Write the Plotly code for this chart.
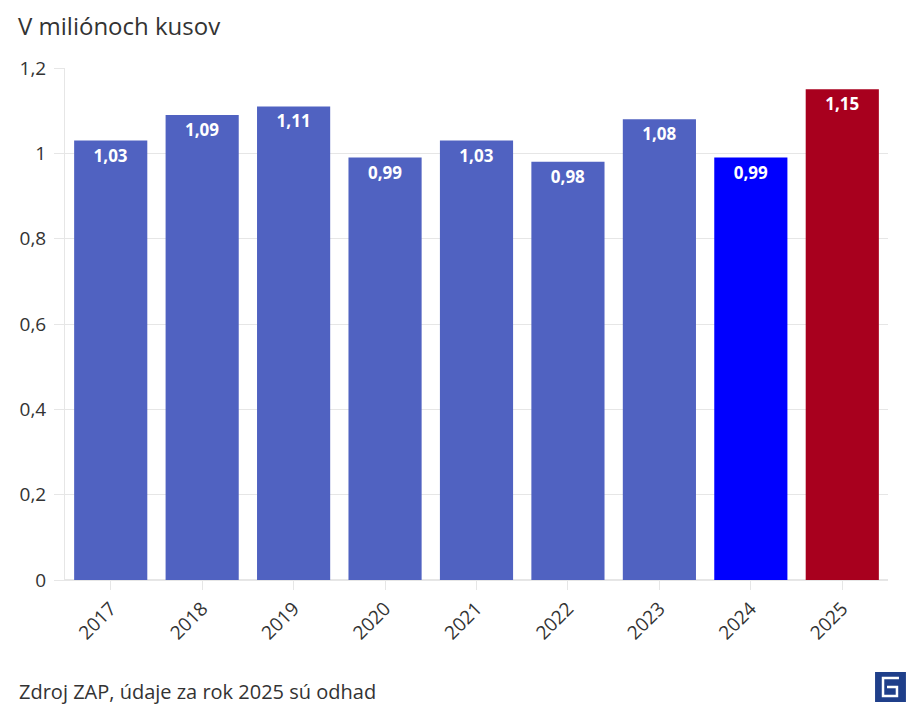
import plotly.graph_objects as go

years = ["2017", "2018", "2019", "2020", "2021", "2022", "2023", "2024", "2025"]
values = [1.03, 1.09, 1.11, 0.99, 1.03, 0.98, 1.08, 0.99, 1.15]
labels = ["1,03", "1,09", "1,11", "0,99", "1,03", "0,98", "1,08", "0,99", "1,15"]
colors = ["#5062C1"] * 7 + ["#0000FF", "#A8001E"]

OFF = 8  # page body margin
W, H = 912, 713
L, R, T, B = 54, 32, 60, 141
pw, ph = W - L - R, H - T - B

def px(x):
    return (x - OFF - L) / pw

def py(y):
    return (H - B - (y - OFF)) / ph

fig = go.Figure(go.Bar(
    x=years, y=values, text=labels, textposition="inside", insidetextanchor="end",
    textfont=dict(color="white", size=17, family="Open Sans", weight="bold"),
    marker=dict(color=colors, line=dict(width=0)),
    cliponaxis=False,
))

shapes = [
    dict(type="rect", xref="paper", yref="paper", x0=px(875), x1=px(906), y0=py(702), y1=py(672),
         fillcolor="#1F3F8A", line=dict(width=0), layer="above"),
    dict(type="path", xref="paper", yref="paper",
         path=f"M {px(899)} {py(678)} L {px(883)} {py(678)} L {px(883)} {py(696)} L {px(897)} {py(696)} L {px(897)} {py(687)} L {px(887)} {py(687)}",
         line=dict(color="white", width=2.5), layer="above"),
]

fig.update_layout(
    width=W, height=H, margin=dict(l=L, r=R, t=T, b=B),
    paper_bgcolor="white", plot_bgcolor="white",
    separators=", ",
    font=dict(family="Open Sans", color="#333333"),
    bargap=0.2,
    showlegend=False,
    xaxis=dict(tickangle=-45, tickfont=dict(size=19, color="#333333"), ticks="outside",
               ticklen=9, tickcolor="#e6e6e6", showline=True, linecolor="#e6e6e6", linewidth=1),
    yaxis=dict(range=[0, 1.2], dtick=0.2, tickfont=dict(size=19, color="#333333"),
               gridcolor="#e6e6e6", ticks="outside", ticklen=10, tickcolor="#e6e6e6",
               showline=True, linecolor="#e6e6e6", zeroline=True, zerolinecolor="#e6e6e6",
               tickformat=",.1~f", ticklabelstandoff=4),
    shapes=shapes,
    annotations=[
        dict(text="V miliónoch kusov", xref="paper", yref="paper", x=px(14), y=py(8),
             xanchor="left", yanchor="top", showarrow=False, borderpad=0,
             font=dict(size=24, color="#333333")),
        dict(text="Zdroj ZAP, údaje za rok 2025 sú odhad", xref="paper", yref="paper",
             x=px(14), y=py(691), xanchor="left", yanchor="middle", showarrow=False,
             font=dict(size=20, color="#333333")),
    ],
)

fig.write_html("out.html")
